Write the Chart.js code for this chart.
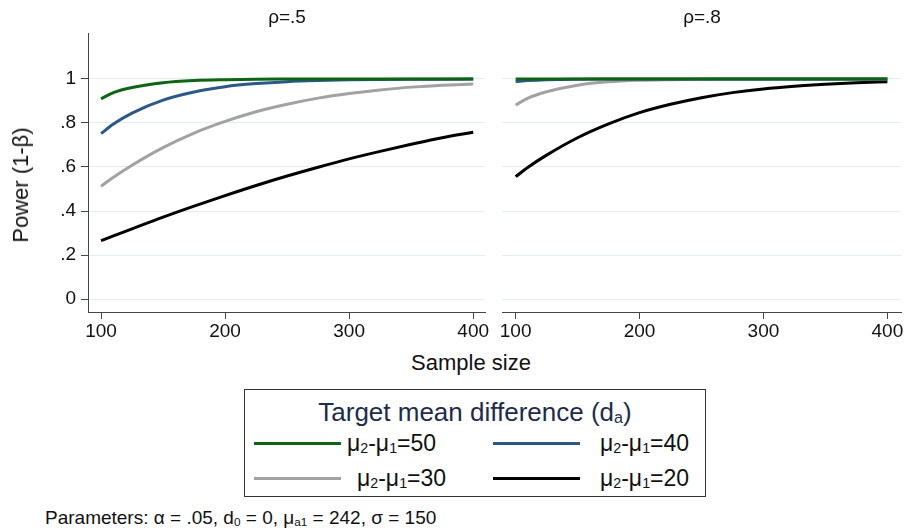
<!DOCTYPE html>
<html>
<head>
<meta charset="utf-8">
<script src="https://cdn.jsdelivr.net/npm/chart.js@4.4.1/dist/chart.umd.min.js"></script>
<style>
  html, body { margin:0; padding:0; background:#fff; }
  body { width:904px; height:531px; position:relative; overflow:hidden; font-family:"Liberation Sans", Arial, sans-serif; color:#111; }
  canvas { position:absolute; }
  .t { position:absolute; white-space:nowrap; }
  .ptitle { font-size:19px; transform:translate(-50%,-50%); }
  sub { font-size:0.62em; vertical-align:-0.15em; line-height:0; }
  #legend { position:absolute; left:244px; top:389px; width:462px; height:108px; border:1px solid #333; box-sizing:border-box; }
  .lline { position:absolute; height:3px; width:87px; }
  .ltext { position:absolute; font-size:23px; transform:translateY(-50%); }
</style>
</head>
<body>
<canvas id="c1" width="490" height="345" style="left:0;top:0"></canvas>
<canvas id="c2" width="414" height="345" style="left:490px;top:0"></canvas>

<div class="t ptitle" style="left:287px;top:17px">ρ=.5</div>
<div class="t ptitle" style="left:702px;top:17px">ρ=.8</div>
<div class="t" style="left:21px;top:185px;font-size:22px;transform:translate(-50%,-50%) rotate(-90deg)">Power (1-β)</div>
<div class="t" style="left:471px;top:363px;font-size:22px;transform:translate(-50%,-50%)">Sample size</div>

<div id="legend"></div>

<div class="t" style="left:45px;top:518px;font-size:19px;transform:translateY(-50%)">Parameters: α = .05, d<sub>0</sub> = 0, μ<sub>a1</sub> = 242, σ = 150</div>

<script>
// ---- Data ----
const sampleSizes = [100, 110, 125, 150, 175, 200, 225, 250, 275, 300, 325, 350, 375, 400];

const rho5_d50 = [0.910, 0.938, 0.961, 0.983, 0.993, 0.997, 0.999, 0.9995, 0.9998, 0.9999, 1, 1, 1, 1];
const rho5_d40 = [0.752, 0.795, 0.845, 0.904, 0.941, 0.965, 0.979, 0.988, 0.993, 0.996, 0.998, 0.999, 0.9993, 0.9996];
const rho5_d30 = [0.512, 0.553, 0.608, 0.688, 0.754, 0.807, 0.851, 0.885, 0.913, 0.934, 0.950, 0.963, 0.972, 0.977];
const rho5_d20 = [0.265, 0.287, 0.319, 0.372, 0.422, 0.470, 0.516, 0.559, 0.599, 0.637, 0.671, 0.703, 0.733, 0.758];

const rho8_d50 = [0.9995, 0.9997, 0.9999, 1, 1, 1, 1, 1, 1, 1, 1, 1, 1, 1];
const rho8_d40 = [0.988, 0.993, 0.997, 0.9993, 0.9998, 1, 1, 1, 1, 1, 1, 1, 1, 1];
const rho8_d30 = [0.882, 0.913, 0.942, 0.972, 0.987, 0.994, 0.997, 0.999, 0.9995, 0.9998, 0.9999, 1, 1, 1];
const rho8_d20 = [0.556, 0.599, 0.654, 0.733, 0.796, 0.847, 0.885, 0.915, 0.938, 0.955, 0.967, 0.976, 0.983, 0.988];

const panelTitles = ["ρ=.5", "ρ=.8"];
const seriesLabels = ["50", "40", "30", "20"];
const seriesColors = ["#0e6414", "#2b5884", "#a2a2a2", "#000000"];
const xTicks = [100, 200, 300, 400];
const yTicks = [0, 0.2, 0.4, 0.6, 0.8, 1];
const yTickLabels = ["0", ".2", ".4", ".6", ".8", "1"];

// ---- Chart building ----
const FONT = { family: '"Liberation Sans", Arial, sans-serif', size: 19 };

function mkDatasets(series) {
  return series.map((vals, i) => ({
    label: "μ2-μ1=" + seriesLabels[i],
    data: sampleSizes.map((x, j) => ({ x: x, y: vals[j] })),
    borderColor: seriesColors[i],
    backgroundColor: seriesColors[i],
    borderWidth: 3,
    pointRadius: 0,
    fill: false,
    cubicInterpolationMode: 'monotone'
  }));
}

function mkChart(id, series, isLeft) {
  return new Chart(document.getElementById(id), {
    type: 'line',
    data: { datasets: mkDatasets(series) },
    options: {
      responsive: false,
      animation: false,
      devicePixelRatio: 1,
      layout: { padding: isLeft ? { left: 0, right: 5, top: 33, bottom: 0 } : { left: 8, right: 3, top: 33, bottom: 0 } },
      plugins: { legend: { display: false }, title: { display: false }, tooltip: { enabled: false } },
      scales: {
        x: {
          type: 'linear',
          min: isLeft ? 89.5 : 89,
          max: isLeft ? 409.5 : 411,
          afterBuildTicks: s => { s.ticks = xTicks.map(v => ({ value: v })); },
          afterFit: s => { s.height = 33; s.paddingLeft = 0; s.paddingRight = 0; },
          ticks: { font: FONT, color: '#111', padding: 1, maxRotation: 0, autoSkip: false,
                   callback: v => String(v) },
          grid: { drawOnChartArea: false, drawTicks: true, tickLength: 7, tickColor: '#444', lineWidth: 1 },
          border: { display: true, color: '#444', width: 1 }
        },
        y: {
          type: 'linear',
          min: -0.059,
          max: 1.209,
          afterBuildTicks: s => { s.ticks = yTicks.map(v => ({ value: v })); },
          afterFit: s => { s.width = isLeft ? 88 : 4; s.paddingTop = 0; s.paddingBottom = 0; },
          ticks: { display: isLeft, font: FONT, color: '#111', padding: 5,
                   callback: (v) => { const k = yTicks.findIndex(t => Math.abs(t - v) < 1e-9); return k >= 0 ? yTickLabels[k] : ''; } },
          grid: { drawOnChartArea: true, drawTicks: isLeft, tickLength: 7, color: '#e4eef0', tickColor: '#444', lineWidth: 1 },
          border: { display: isLeft, color: '#444', width: 1 }
        }
      }
    }
  });
}

mkChart('c1', [rho5_d50, rho5_d40, rho5_d30, rho5_d20], true);
mkChart('c2', [rho8_d50, rho8_d40, rho8_d30, rho8_d20], false);

// ---- Legend (HTML) ----
const leg = document.getElementById('legend');
const title = document.createElement('div');
title.className = 't';
title.style.cssText = 'left:0;width:100%;text-align:center;top:22px;font-size:26px;color:#1e2b4a;transform:translateY(-50%)';
title.innerHTML = 'Target mean difference (d<sub>a</sub>)';
leg.appendChild(title);
const pos = [
  { lx: 9, tx: 102, y: 53 },
  { lx: 248, tx: 355, y: 53 },
  { lx: 9, tx: 112, y: 88 },
  { lx: 248, tx: 355, y: 88 }
];
seriesLabels.forEach((lab, i) => {
  const p = pos[i];
  const ln = document.createElement('div');
  ln.className = 'lline';
  ln.style.cssText = `left:${p.lx}px;top:${p.y - 1.5}px;background:${seriesColors[i]}`;
  leg.appendChild(ln);
  const tx = document.createElement('div');
  tx.className = 'ltext t';
  tx.style.left = p.tx + 'px';
  tx.style.top = p.y + 'px';
  tx.innerHTML = `μ<sub>2</sub>-μ<sub>1</sub>=${lab}`;
  leg.appendChild(tx);
});
</script>
</body>
</html>
